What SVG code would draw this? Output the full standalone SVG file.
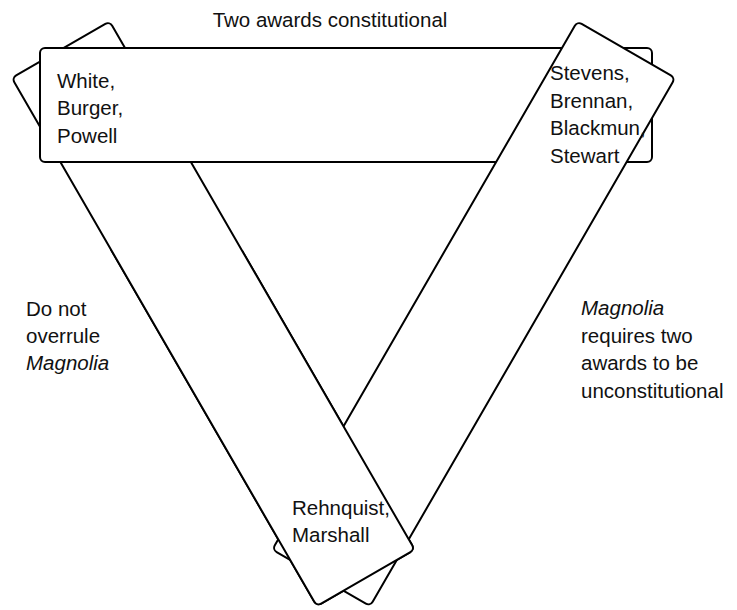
<svg xmlns="http://www.w3.org/2000/svg" xmlns:xlink="http://www.w3.org/1999/xlink" width="737" height="610" viewBox="0 0 737 610">
  <style>
    .bar { fill: #ffffff; stroke: #000000; stroke-width: 2; }
    .lbl { font-family: "Liberation Sans", Arial, sans-serif; font-size: 20.5px; fill: #111111; }
    .it { font-style: italic; }
  </style>
  <defs>
    <rect id="leftRect" x="-305" y="-56.5" width="610" height="113" rx="5" transform="translate(213.25,313.75) rotate(60)"/>
    <clipPath id="lowerHalf">
      <rect x="0" y="250" width="737" height="360"/>
    </clipPath>
  </defs>

  <g id="connectors"></g>

  <g id="bar-left">
    <use xlink:href="#leftRect" class="bar"/>
  </g>

  <g id="bar-top">
    <rect class="bar" x="40" y="48" width="612" height="114" rx="5"/>
  </g>

  <g id="bar-right">
    <rect class="bar" x="-305" y="-56.5" width="610" height="113" rx="5" transform="translate(473.75,313.75) rotate(-60)"/>
  </g>

  <g id="bar-left-front">
    <use xlink:href="#leftRect" class="bar" clip-path="url(#lowerHalf)"/>
  </g>

  <g id="label-top">
    <text class="lbl" x="330" y="27" text-anchor="middle">Two awards constitutional</text>
  </g>

  <g id="label-left">
    <text class="lbl" x="26" y="316">Do not</text>
    <text class="lbl" x="26" y="343">overrule</text>
    <text class="lbl it" x="26" y="370">Magnolia</text>
  </g>

  <g id="label-right">
    <text class="lbl it" x="581" y="315">Magnolia</text>
    <text class="lbl" x="581" y="342.5">requires two</text>
    <text class="lbl" x="581" y="370">awards to be</text>
    <text class="lbl" x="581" y="397.5">unconstitutional</text>
  </g>

  <g id="group-white-burger-powell">
    <text class="lbl" x="57" y="88">White,</text>
    <text class="lbl" x="57" y="115">Burger,</text>
    <text class="lbl" x="57" y="142.5">Powell</text>
  </g>

  <g id="group-stevens-brennan-blackmun-stewart">
    <text class="lbl" x="550" y="80">Stevens,</text>
    <text class="lbl" x="550" y="107.5">Brennan,</text>
    <text class="lbl" x="550" y="135">Blackmun,</text>
    <text class="lbl" x="550" y="162.5">Stewart</text>
  </g>

  <g id="group-rehnquist-marshall">
    <text class="lbl" x="292" y="515">Rehnquist,</text>
    <text class="lbl" x="292" y="542">Marshall</text>
  </g>
</svg>
